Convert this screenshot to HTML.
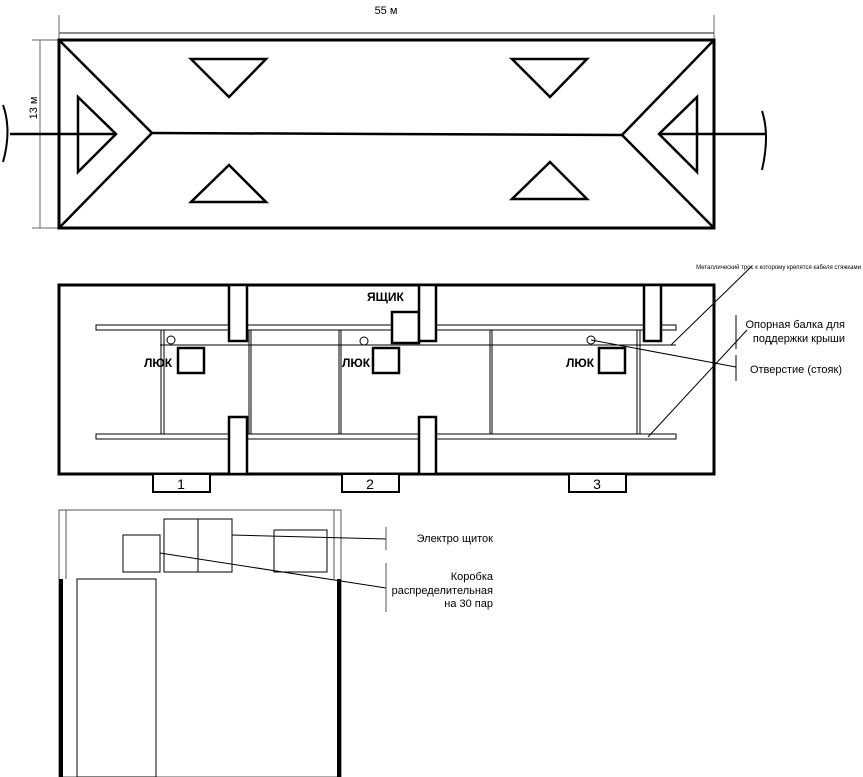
<!DOCTYPE html>
<html><head><meta charset="utf-8"><style>body{margin:0;background:#fff}svg{display:block}text{font-family:"Liberation Sans",sans-serif;fill:#000}</style></head><body>
<svg width="863" height="777" viewBox="0 0 863 777" xmlns="http://www.w3.org/2000/svg">
<g stroke="#000" fill="none">
<!-- top -->
<line x1="59" y1="33" x2="714" y2="33" stroke="#666" stroke-width="1.5"/>
<line x1="59" y1="15" x2="59" y2="40" stroke="#666"/>
<line x1="714" y1="15" x2="714" y2="40" stroke="#666"/>
<line x1="40" y1="40" x2="40" y2="228" stroke="#666"/>
<line x1="32" y1="40" x2="59" y2="40" stroke="#666"/>
<line x1="32" y1="228" x2="59" y2="228" stroke="#666"/>
<rect x="59" y="40" width="655" height="188" stroke-width="3"/>
<polyline points="59,40 152,133 59,228" stroke-width="2.5"/>
<polyline points="714,40 622,135 714,228" stroke-width="2.5"/>
<line x1="152" y1="133" x2="622" y2="135" stroke-width="2.5"/>
<polygon points="191,59 266,59 229,97" stroke-width="2.5"/>
<polygon points="512,59 587,59 550,97" stroke-width="2.5"/>
<polygon points="229,165 191,202 266,202" stroke-width="2.5"/>
<polygon points="550,162 512,199 587,199" stroke-width="2.5"/>
<polygon points="78,97 116,134 78,172" stroke-width="2.5"/>
<polygon points="697,97 659,134 697,172" stroke-width="2.5"/>
<line x1="10" y1="134" x2="116" y2="134" stroke-width="2.5"/>
<line x1="659" y1="134" x2="765" y2="134" stroke-width="2.5"/>
<path d="M3,105 Q12,130 3,162" stroke-width="2"/>
<path d="M762,111 Q770,135 762,170" stroke-width="2"/>
<!-- middle -->
<rect x="59" y="285" width="655" height="189" stroke-width="3"/>
<g stroke-width="1">
<rect x="96" y="325" width="580" height="5"/>
<rect x="96" y="434" width="580" height="5"/>
<line x1="160" y1="345" x2="676" y2="345"/>
<line x1="161" y1="330" x2="161" y2="434"/><line x1="164" y1="330" x2="164" y2="434"/>
<line x1="249" y1="330" x2="249" y2="434"/><line x1="251" y1="330" x2="251" y2="434"/>
<line x1="339" y1="330" x2="339" y2="434"/><line x1="341" y1="330" x2="341" y2="434"/>
<line x1="490" y1="330" x2="490" y2="434"/><line x1="492" y1="330" x2="492" y2="434"/>
<line x1="637" y1="330" x2="637" y2="434"/><line x1="640" y1="330" x2="640" y2="434"/>
</g>
<g stroke-width="2.5" fill="#fff">
<rect x="229" y="285" width="18" height="56"/>
<rect x="229" y="417" width="18" height="57"/>
<rect x="392" y="312" width="27" height="31"/>
<rect x="419" y="285" width="17" height="56"/>
<rect x="419" y="417" width="17" height="57"/>
<rect x="644" y="285" width="17" height="56"/>
<rect x="178" y="348" width="26" height="25"/>
<rect x="373" y="348" width="26" height="25"/>
<rect x="599" y="348" width="26" height="25"/>
<rect x="153" y="474" width="57" height="18" stroke-width="2"/>
<rect x="342" y="474" width="57" height="18" stroke-width="2"/>
<rect x="569" y="474" width="57" height="18" stroke-width="2"/>
</g>
<circle cx="171" cy="340" r="4"/><circle cx="364" cy="341" r="4"/><circle cx="591" cy="340" r="4"/>
<line x1="591" y1="340" x2="736" y2="367"/>
<line x1="671" y1="345" x2="752" y2="266"/>
<line x1="648" y1="437" x2="747" y2="330"/>
<line x1="736" y1="315" x2="736" y2="349"/>
<line x1="736" y1="355" x2="736" y2="381"/>
<!-- bottom -->
<rect x="59" y="510" width="282" height="267" stroke="#555"/>
<line x1="66" y1="510" x2="66" y2="579" stroke="#555"/>
<line x1="334" y1="510" x2="334" y2="579" stroke="#555"/>
<rect x="59" y="579" width="4" height="198" fill="#000" stroke="none"/>
<rect x="337" y="579" width="4" height="198" fill="#000" stroke="none"/>
<rect x="77" y="579" width="79" height="198"/>
<rect x="123" y="535" width="37" height="37"/>
<rect x="164" y="519" width="68" height="53"/>
<line x1="198" y1="519" x2="198" y2="572"/>
<rect x="274" y="530" width="53" height="42"/>
<line x1="232" y1="535" x2="386" y2="539"/>
<line x1="160" y1="553" x2="386" y2="588"/>
<line x1="386" y1="527" x2="386" y2="550" stroke="#555"/>
<line x1="386" y1="563" x2="386" y2="612" stroke="#555"/>
</g>
<text x="386" y="14" font-size="11" text-anchor="middle">55 м</text>
<text transform="translate(37,108) rotate(-90)" font-size="11" text-anchor="middle">13 м</text>
<text x="367" y="301" font-size="12" font-weight="bold">ЯЩИК</text>
<text x="144" y="367" font-size="12" font-weight="bold">ЛЮК</text>
<text x="342" y="367" font-size="12" font-weight="bold">ЛЮК</text>
<text x="566" y="367" font-size="12" font-weight="bold">ЛЮК</text>
<text x="181" y="489" font-size="14" text-anchor="middle">1</text>
<text x="370" y="489" font-size="14" text-anchor="middle">2</text>
<text x="597" y="489" font-size="14" text-anchor="middle">3</text>
<text x="861" y="269" font-size="6" text-anchor="end">Металлический трос к которому крепятся кабеля стяжками</text>
<text x="845" y="328" font-size="11" text-anchor="end">Опорная балка для</text>
<text x="845" y="342" font-size="11" text-anchor="end">поддержки крыши</text>
<text x="842" y="373" font-size="11" text-anchor="end">Отверстие (стояк)</text>
<text x="493" y="542" font-size="11" text-anchor="end">Электро щиток</text>
<text x="493" y="580" font-size="11" text-anchor="end">Коробка</text>
<text x="493" y="594" font-size="11" text-anchor="end">распределительная</text>
<text x="493" y="607" font-size="11" text-anchor="end">на 30 пар</text>
</svg>
</body></html>
